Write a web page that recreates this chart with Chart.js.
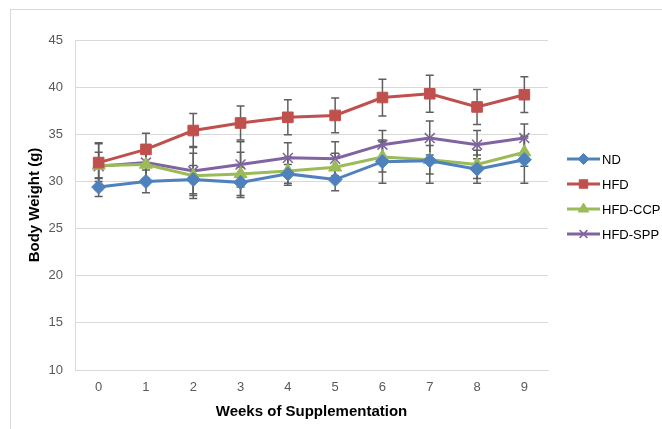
<!DOCTYPE html>
<html>
<head>
<meta charset="utf-8">
<script src="https://cdn.jsdelivr.net/npm/chart.js@4.4.1/dist/chart.umd.min.js"></script>
<style>
  html, body { margin: 0; padding: 0; background: #fff; }
  #wrap { width: 662px; height: 429px; }
</style>
</head>
<body>
<div id="wrap"><canvas id="myChart" width="662" height="429"></canvas></div>
<script>
// weeks on the x axis
const weeks = ["0", "1", "2", "3", "4", "5", "6", "7", "8", "9"];

// mean body weight (g)
const nd = [29.4, 30.0, 30.2, 29.9, 30.8, 30.2, 32.1, 32.2, 31.3, 32.3];
const hfd = [32.0, 33.4, 35.4, 36.2, 36.8, 37.0, 38.9, 39.3, 37.9, 39.2];
const hfdCcp = [31.7, 31.8, 30.6, 30.8, 31.1, 31.5, 32.6, 32.3, 31.8, 33.1];
const hfdSpp = [31.6, 32.0, 31.1, 31.8, 32.5, 32.4, 33.9, 34.6, 33.9, 34.6];

// standard deviation for the error bars
const ndErr = [1.0, 1.2, 1.5, 1.6, 1.0, 1.2, 2.3, 2.4, 1.5, 2.5];
const hfdErr = [2.0, 1.7, 1.8, 1.8, 1.85, 1.85, 1.95, 1.95, 1.85, 1.9];
const hfdCcpErr = [1.4, 1.5, 2.4, 2.3, 1.5, 1.5, 1.6, 1.5, 1.5, 1.5];
const hfdSppErr = [2.5, 1.8, 2.6, 2.4, 1.6, 1.8, 1.5, 1.8, 1.5, 1.5];

const yTicks = [10, 15, 20, 25, 30, 35, 40, 45];

(function () {
    const font = "'Liberation Sans', Arial, sans-serif";

    // error bars, drawn through the chart scales (under the lines)
    const errorBars = {
        id: "errorBars",
        beforeDatasetsDraw(chart) {
            const { ctx, scales } = chart;
            ctx.save();
            ctx.strokeStyle = "#5f5f5f";
            ctx.lineWidth = 1.5;
            chart.data.datasets.forEach((ds) => {
                ds.data.forEach((v, i) => {
                    const x = scales.x.getPixelForValue(i);
                    const top = scales.y.getPixelForValue(v + ds.err[i]);
                    const bot = scales.y.getPixelForValue(v - ds.err[i]);
                    ctx.beginPath();
                    ctx.moveTo(x, top);
                    ctx.lineTo(x, bot);
                    ctx.moveTo(x - 4, top);
                    ctx.lineTo(x + 4, top);
                    ctx.moveTo(x - 4, bot);
                    ctx.lineTo(x + 4, bot);
                    ctx.stroke();
                });
            });
            ctx.restore();
        },
    };

    // legend with line + marker, plus the outer chart border
    const sideLegend = {
        id: "sideLegend",
        afterDraw(chart) {
            const { ctx } = chart;
            ctx.save();
            ctx.strokeStyle = "#d9d9d9";
            ctx.lineWidth = 1;
            ctx.strokeRect(10.5, 9.5, 700, 500);
            chart.data.datasets.forEach((ds, i) => {
                const y = 159 + i * 25;
                ctx.strokeStyle = ds.borderColor;
                ctx.fillStyle = ds.borderColor;
                ctx.lineWidth = 3;
                ctx.beginPath();
                ctx.moveTo(567, y);
                ctx.lineTo(600, y);
                ctx.stroke();
                ctx.lineWidth = ds.pointBorderWidth;
                Chart.helpers.drawPoint(ctx, {
                    pointStyle: ds.pointStyle,
                    radius: ds.pointRadius - 1.5,
                    borderWidth: ds.pointBorderWidth,
                }, 583.5, y);
                ctx.fillStyle = "#000";
                ctx.font = "13px " + font;
                ctx.textBaseline = "middle";
                ctx.fillText(ds.label, 602, y + 1);
            });
            ctx.restore();
        },
    };

    function series(label, data, err, color, style, radius) {
        return {
            label: label,
            data: data,
            err: err,
            borderColor: color,
            backgroundColor: color,
            borderWidth: 3,
            pointStyle: style,
            pointRadius: radius,
            pointBorderColor: color,
            pointBackgroundColor: color,
            pointBorderWidth: style === "crossRot" ? 1.5 : 1,
            tension: 0,
        };
    }

    const ctx = document.getElementById("myChart");
    new Chart(ctx, {
        type: "line",
        data: {
            labels: weeks,
            datasets: [
                series("ND", nd, ndErr, "#4f81bd", "rectRot", 7),
                series("HFD", hfd, hfdErr, "#c0504d", "rect", 7.5),
                series("HFD-CCP", hfdCcp, hfdCcpErr, "#9bbb59", "triangle", 7.5),
                series("HFD-SPP", hfdSpp, hfdSppErr, "#8064a2", "crossRot", 7),
            ],
        },
        options: {
            responsive: false,
            animation: false,
            layout: { padding: { left: 0, top: 40, right: 114, bottom: 0 } },
            plugins: {
                legend: { display: false },
                tooltip: { enabled: false },
            },
            scales: {
                x: {
                    offset: true,
                    grid: { display: false, drawTicks: false },
                    border: { display: true, color: "#d9d9d9" },
                    ticks: { color: "#595959", font: { family: font, size: 13 }, padding: 10 },
                    title: {
                        display: true,
                        text: "Weeks of Supplementation",
                        color: "#000",
                        font: { family: font, size: 15, weight: "bold" },
                        padding: { top: 0, bottom: 8 },
                    },
                    afterFit(scale) { scale.height = 59; },
                },
                y: {
                    min: 10,
                    max: 45,
                    afterBuildTicks(scale) { scale.ticks = yTicks.map((v) => ({ value: v })); },
                    grid: { color: "#d9d9d9", drawTicks: false },
                    border: { display: true, color: "#d9d9d9" },
                    ticks: { color: "#595959", font: { family: font, size: 13 }, padding: 12 },
                    title: {
                        display: true,
                        text: "Body Weight (g)",
                        color: "#000",
                        font: { family: font, size: 15, weight: "bold" },
                        padding: { top: 26, bottom: 0 },
                    },
                    afterFit(scale) { scale.width = 75; },
                },
            },
        },
        plugins: [errorBars, sideLegend],
    });
})();
</script>
</body>
</html>
